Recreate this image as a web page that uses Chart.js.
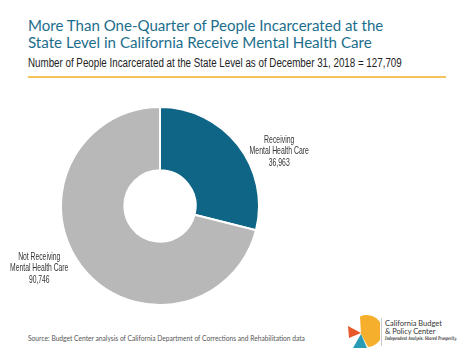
<!DOCTYPE html>
<html><head><meta charset="utf-8">
<script src="https://cdn.jsdelivr.net/npm/chart.js@4"></script>
<style>
html,body{margin:0;padding:0;background:#fff;width:474px;height:355px;overflow:hidden;position:relative;font-family:Lato,"Open Sans",sans-serif;}
.t{position:absolute;white-space:nowrap;transform-origin:0 0;}
.ln{position:absolute;white-space:nowrap;transform-origin:0 0;color:#1c6e8c;font-size:14.5px;line-height:15px;font-family:Lato,sans-serif;}
#sub{left:28px;top:57px;font-size:12px;line-height:12px;color:#222;font-family:"Liberation Sans",sans-serif;}
#rule{position:absolute;left:28px;top:76px;width:418px;height:2px;background:#f6c25a;}
.lab{position:absolute;font-size:10.5px;line-height:11.3px;color:#333;font-family:"Liberation Sans",sans-serif;white-space:nowrap;}
.lab div{text-align:center;}
#src{left:28px;top:334px;font-size:7px;color:#555;font-family:Lato,sans-serif;}
#wrap{position:absolute;left:60px;top:106px;width:200px;height:200px;}
#logo{position:absolute;left:346px;top:315px;}
.lt{position:absolute;left:385px;white-space:nowrap;transform-origin:0 0;color:#333;font-family:Lato,sans-serif;font-size:8px;line-height:8px;}
</style></head><body>
<div class="ln" id="t1" style="left:28px;top:18px;">More Than One-Quarter of People Incarcerated at the</div>
<div class="ln" id="t2" style="left:28px;top:35px;">State Level in California Receive Mental Health Care</div>
<div class="t" id="sub">Number of People Incarcerated at the State Level as of December 31, 2018 = 127,709</div>
<div id="rule"></div>
<div id="wrap"><canvas id="c" width="200" height="200"></canvas></div>
<div class="lab" id="l0"></div>
<div class="lab" id="l1"></div>
<div class="t" id="src">Source: Budget Center analysis of California Department of Corrections and Rehabilitation data</div>
<svg id="logo" width="34" height="34" viewBox="0 0 34 34">
<path d="M14 1.5 A16 16 0 1 1 22 32 L15 19 Z" fill="#f6ae2d"/>
<polygon points="2,11 15,18 3,23" fill="#e8582a"/>
<polygon points="15,19 21,33 7,33" fill="#2a9bb5"/>
</svg>
<div style="position:absolute;left:381px;top:318px;width:1px;height:28px;background:#ccc;"></div>
<div class="lt" id="lt1" style="top:319px;">California Budget</div>
<div class="lt" id="lt2" style="top:327px;">&amp; Policy Center</div>
<div class="lt" id="lt3" style="top:335.5px;font-family:'DejaVu Serif',serif;font-style:italic;font-weight:bold;font-size:5px;line-height:5px;color:#444;">Independent Analysis. Shared Prosperity.</div>
<script>
const categories = ["Receiving\nMental Health Care", "Not Receiving\nMental Health Care"];
const values = [36963, 90746];
const colors = ["#0f6585", "#b8b8b8"];

function fit(el, w){ el.style.transform = "scaleX(" + (w / el.scrollWidth) + ")"; }
fit(document.getElementById("t1"), 355);
fit(document.getElementById("t2"), 344);
fit(document.getElementById("sub"), 374);
fit(document.getElementById("src"), 277);
fit(document.getElementById("lt1"), 57);
fit(document.getElementById("lt2"), 50);
fit(document.getElementById("lt3"), 72);

// labels: centre x, top y, width of the widest line
const labPos = [[279, 134, 59], [39, 251, 58]];
["l0","l1"].forEach((id,i)=>{
  const el = document.getElementById(id);
  const lines = categories[i].split("\n").concat([values[i].toLocaleString("en-US")]);
  el.innerHTML = lines.map(s => "<div>" + s + "</div>").join("");
  const w = el.scrollWidth, s = labPos[i][2] / w;
  el.style.left = (labPos[i][0] - w / 2) + "px";
  el.style.top = labPos[i][1] + "px";
  el.style.transformOrigin = "50% 0";
  el.style.transform = "scaleX(" + s + ")";
});

new Chart(document.getElementById("c"), {
  type: "doughnut",
  data: { labels: categories, datasets: [{ data: values, backgroundColor: colors, borderColor: "#fff", borderWidth: 2 }] },
  options: {
    responsive: false, animation: false, cutout: "36%",
    layout: { padding: 0 },
    plugins: { legend: { display: false }, tooltip: { enabled: false } }
  }
});
</script>
</body></html>
